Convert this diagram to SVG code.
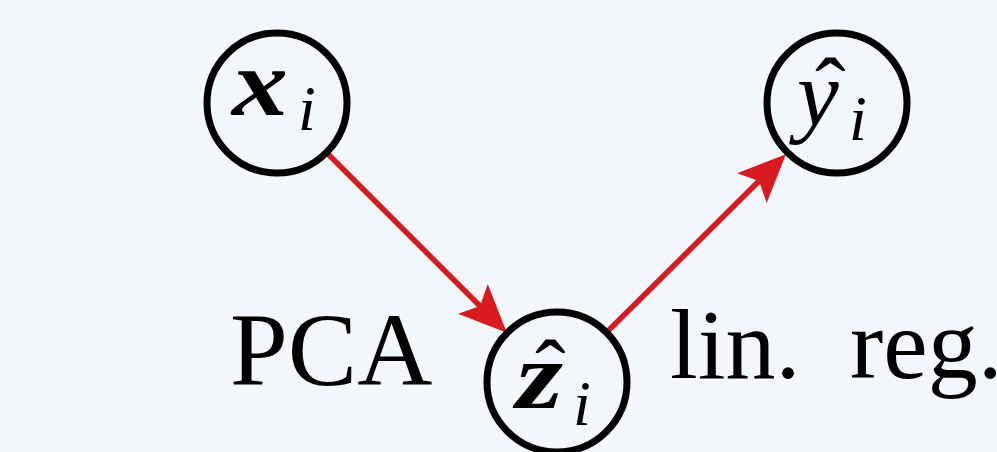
<svg xmlns="http://www.w3.org/2000/svg" width="997" height="452" viewBox="0 0 997 452">
  <style>
    .node { fill: none; stroke: #000; stroke-width: 7; }
    .edge { stroke: #d81b21; stroke-width: 5.5; fill: none; }
    .lbl { font-family: "Liberation Serif", "Times New Roman", serif; fill: #000; }
    .mbi { font-style: italic; font-weight: bold; font-size: 96px; }
    .mi { font-style: italic; font-size: 94px; }
    .sub { font-style: italic; font-size: 64px; font-weight: normal; }
    .hat { font-size: 92px; font-style: normal; font-weight: normal; }
    .math { font-family: "Liberation Serif", "Times New Roman", serif; fill: #000; }
  </style>
  <defs>
    <marker id="arrow" markerUnits="userSpaceOnUse" markerWidth="60" markerHeight="50" refX="0" refY="0" orient="auto" overflow="visible">
      <path d="M38,0 L-10,-21 L0,0 L-10,21 Z" fill="#d81b21"/>
    </marker>
  </defs>
  <rect width="997" height="452" fill="#f3f6fa"/>

  <g id="connectors">
    <line class="edge" x1="325" y1="151" x2="480" y2="306" marker-end="url(#arrow)"/>
    <line class="edge" x1="608" y1="331" x2="759" y2="181" marker-end="url(#arrow)"/>
  </g>

  <g id="node-x">
    <circle class="node" cx="277" cy="103" r="70"/>
    <text class="math"><tspan class="mbi" x="232" y="115" textLength="56" lengthAdjust="spacingAndGlyphs">x</tspan><tspan class="sub" x="298" y="130">i</tspan></text>
  </g>

  <g id="node-y">
    <circle class="node" cx="837" cy="103" r="70"/>
    <text class="math"><tspan class="hat" x="815" y="121">ˆ</tspan><tspan class="mi" x="797" y="125">y</tspan><tspan class="sub" x="849" y="140">i</tspan></text>
  </g>

  <g id="node-z">
    <circle class="node" cx="557" cy="382" r="70"/>
    <text class="math"><tspan class="hat" x="535" y="403">ˆ</tspan><tspan class="mbi" x="516" y="408" textLength="47" lengthAdjust="spacingAndGlyphs">z</tspan><tspan class="sub" x="573" y="425">i</tspan></text>
  </g>

  <g id="labels">
    <text class="lbl" x="230" y="385" font-size="104">PCA</text>
    <text class="lbl" y="378" font-size="100"><tspan x="670">lin.</tspan><tspan x="850">reg.</tspan></text>
  </g>
</svg>
